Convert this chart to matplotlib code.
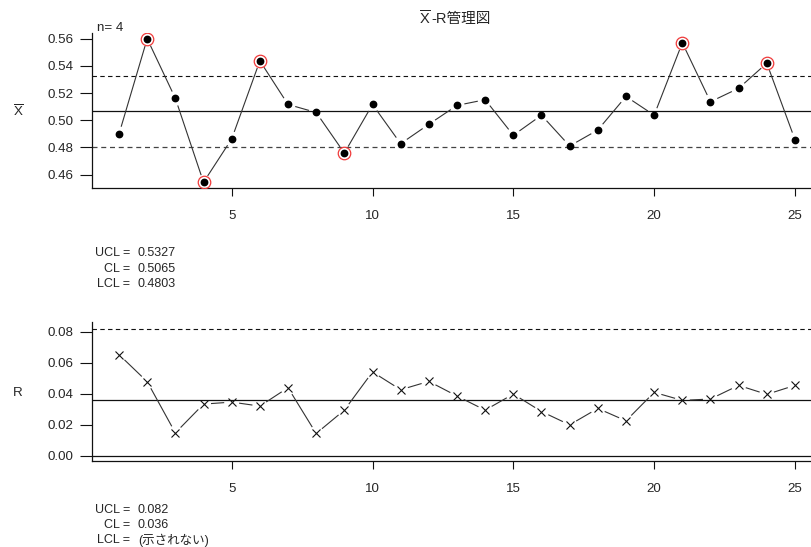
import numpy as np
import matplotlib
matplotlib.use("Agg")
import matplotlib.pyplot as plt

plt.rcParams['font.family'] = ['Liberation Sans', 'Noto Sans CJK JP', 'DejaVu Sans']
plt.rcParams['mathtext.fontset'] = 'custom'
plt.rcParams['mathtext.rm'] = 'Liberation Sans'

# subgroup numbers and statistics (subgroup size n = 4)
subgroups = list(range(1, 26))
xbar = [0.4899, 0.5600, 0.5161, 0.4543, 0.4862, 0.5437, 0.5116, 0.5057, 0.4758, 0.5116,
        0.4827, 0.4970, 0.5109, 0.5151, 0.4889, 0.5037, 0.4810, 0.4928, 0.5175, 0.5037,
        0.5570, 0.5136, 0.5235, 0.5420, 0.4857]
ranges = [0.0653, 0.0478, 0.0147, 0.0333, 0.0346, 0.0320, 0.0439, 0.0143, 0.0294, 0.0541,
          0.0426, 0.0480, 0.0385, 0.0294, 0.0398, 0.0285, 0.0199, 0.0305, 0.0225, 0.0409,
          0.0357, 0.0366, 0.0454, 0.0396, 0.0454]
n_size = 4

# control limits
xbar_ucl, xbar_cl, xbar_lcl = 0.5327, 0.5065, 0.4803
r_ucl, r_cl = 0.082, 0.036

xticks = [5, 10, 15, 20, 25]
xbar_yticks = [0.46, 0.48, 0.50, 0.52, 0.54, 0.56]
r_yticks = [0.00, 0.02, 0.04, 0.06, 0.08]

W, H = 811, 547
fig = plt.figure(figsize=(W / 100, H / 100), dpi=100)


def fpos(x, y):
    return x / W, 1 - y / H


def axes_px(left, top, right, bottom):
    return fig.add_axes([left / W, 1 - bottom / H, (right - left) / W, (bottom - top) / H])


TXT = '#262626'
FS = 9
TFS = 9.6


def style(ax, yticks, fmt):
    for s in ('top', 'right'):
        ax.spines[s].set_visible(False)
    for s in ('left', 'bottom'):
        ax.spines[s].set_linewidth(0.9)
        ax.spines[s].set_color('#111111')
    ax.set_xticks(xticks)
    ax.set_xticklabels([str(t) for t in xticks])
    ax.set_yticks(yticks)
    ax.set_yticklabels([fmt.format(t) for t in yticks])
    ax.tick_params(axis='x', direction='out', length=6, width=0.8, pad=10,
                   labelsize=TFS, labelcolor=TXT, color='#111111')
    ax.tick_params(axis='y', direction='out', length=8.5, width=0.8, pad=5,
                   labelsize=TFS, labelcolor=TXT, color='#111111')


def gapped_line(ax, x, y, gap_px, **kw):
    pts = ax.transData.transform(np.column_stack([x, y]))
    inv = ax.transData.inverted()
    for p0, p1 in zip(pts[:-1], pts[1:]):
        d = p1 - p0
        L = np.hypot(*d)
        if L <= 2 * gap_px:
            continue
        u = d / L
        a = inv.transform(p0 + u * gap_px)
        b = inv.transform(p1 - u * gap_px)
        ax.plot([a[0], b[0]], [a[1], b[1]], solid_capstyle='butt', **kw)


x = np.array(subgroups, dtype=float)
xlim = (0.04, 25.96)
dash = (0, (4, 3))

# ---- X-bar chart ----
ax1 = axes_px(92, 33, 822, 188)
xb = np.array(xbar)
lo, hi = min(xb.min(), xbar_lcl), max(xb.max(), xbar_ucl)
ext = 0.04 * (hi - lo)
ax1.set_xlim(*xlim)
ax1.set_ylim(lo - ext, hi + ext)
style(ax1, xbar_yticks, '{:.2f}')

ax1.axhline(xbar_ucl, color='#111111', lw=0.8, ls=dash, zorder=1)
ax1.axhline(xbar_cl, color='#111111', lw=0.9, zorder=1)
ax1.axhline(xbar_lcl, color='#444444', lw=0.9, ls=dash, zorder=1)

gapped_line(ax1, x, xb, 7.5, color='#333333', lw=0.8, zorder=2)
ax1.plot(x, xb, 'o', color='black', ms=4.6, zorder=3)
out = (xb > xbar_ucl) | (xb < xbar_lcl)
ax1.plot(x[out], xb[out], 'o', mfc='none', mec='#f03a3a', mew=0.9, ms=9, zorder=4)

# ---- R chart ----
ax2 = axes_px(92, 322.3, 822, 460.7)
rr = np.array(ranges)
ax2.set_xlim(*xlim)
ax2.set_ylim(-0.0033, 0.0862)
style(ax2, r_yticks, '{:.2f}')

ax2.axhline(r_ucl, color='#111111', lw=0.8, ls=dash, zorder=1)
ax2.axhline(r_cl, color='#111111', lw=0.9, zorder=1)
ax2.axhline(0.0, color='#111111', lw=0.9, zorder=1)

gapped_line(ax2, x, rr, 7.5, color='#333333', lw=0.8, zorder=2)
ax2.plot(x, rr, 'x', color='#111111', ms=5.5, mew=0.8, zorder=3)

# ---- titles, axis labels and limit summaries ----
fig.canvas.draw()
renderer = fig.canvas.get_renderer()
tx, ty = fpos(419, 19)
t1 = fig.text(tx, ty, r'$\overline{\mathrm{X}}$', fontsize=10.5, color=TXT, ha='left', va='center')
bb = t1.get_window_extent(renderer)
fig.text((bb.x1 + 0.5) / W, ty, '-R管理図', fontsize=10.5, color=TXT, ha='left', va='center')

fig.text(*fpos(18, 112), r'$\overline{\mathrm{X}}$', fontsize=TFS, color=TXT, ha='center', va='center')
fig.text(*fpos(18, 393), 'R', fontsize=TFS, color=TXT, ha='center', va='center')
fig.text(*fpos(97, 28), f'n= {n_size}', fontsize=TFS, color=TXT, ha='left', va='center')

xbar_summary = [('UCL =', f'{xbar_ucl:.4f}'), ('CL =', f'{xbar_cl:.4f}'), ('LCL =', f'{xbar_lcl:.4f}')]
for (lab, val), yy in zip(xbar_summary, [253, 268.5, 284]):
    fig.text(*fpos(130, yy), lab, fontsize=FS, color=TXT, ha='right', va='center')
    fig.text(*fpos(138, yy), val, fontsize=FS, color=TXT, ha='left', va='center')

r_summary = [('UCL =', f'{r_ucl:.3f}'), ('CL =', f'{r_cl:.3f}'), ('LCL =', '(示されない)')]
for (lab, val), yy in zip(r_summary, [510, 525, 540]):
    fig.text(*fpos(130, yy), lab, fontsize=FS, color=TXT, ha='right', va='center')
    fig.text(*fpos(138, yy), val, fontsize=FS, color=TXT, ha='left', va='center')

fig.savefig('out.png', dpi=100)
